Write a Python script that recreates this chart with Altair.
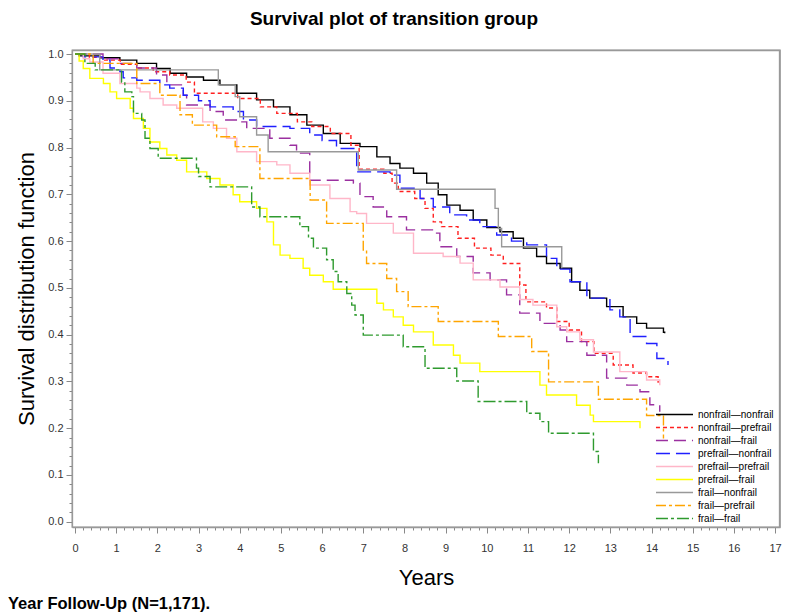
import altair as alt
import pandas as pd

groups = ["nonfrail\u2014nonfrail", "nonfrail\u2014prefrail", "nonfrail\u2014frail",
          "prefrail\u2014nonfrail", "prefrail\u2014prefrail", "prefrail\u2014frail",
          "frail\u2014nonfrail", "frail\u2014prefrail", "frail\u2014frail"]
colors = ["#000000", "#ff2020", "#9b30a0", "#1f1fff", "#ffb6c8", "#ffff00", "#999999", "#ffa500", "#2e9a2e"]
dashes = [[1, 0], [4, 3], [12, 6], [14, 6], [1, 0], [1, 0], [1, 0], [10, 3, 3, 3], [12, 3, 3, 3]]

# step-after survival curves (time in years, survival probability)
t_nn = [0, 0.1, 0.6, 1.09, 1.5, 1.98, 2.31, 2.71, 3.12, 3.52, 3.93, 4.41, 4.82, 5.22, 5.63, 6.03, 6.44, 6.92,
        7.33, 7.65, 7.89, 8.22, 8.54, 8.82, 9.03, 9.35, 9.67, 10.0, 10.32, 10.64, 10.89, 11.21, 11.45, 11.78,
        12.06, 12.26, 12.5, 12.91, 13.31, 13.64, 13.88, 14.29, 14.32]
s_nn = [1.0, 0.996, 0.992, 0.987, 0.98, 0.969, 0.959, 0.951, 0.944, 0.934, 0.916, 0.902, 0.887, 0.87, 0.848,
        0.83, 0.809, 0.802, 0.78, 0.766, 0.756, 0.745, 0.724, 0.699, 0.677, 0.666, 0.645, 0.629, 0.62, 0.606,
        0.585, 0.567, 0.552, 0.542, 0.513, 0.495, 0.478, 0.46, 0.438, 0.424, 0.414, 0.405, 0.403]

t_np = [0, 0.35, 0.7, 1.1, 1.5, 1.9, 2.3, 2.7, 2.9, 3.95, 4.5, 4.9, 5.4, 5.75, 6.2, 6.7, 6.9, 7.5, 7.7, 7.85,
        8.25, 8.5, 8.7, 8.9, 9.3, 9.7, 10.1, 10.4, 10.8, 10.95, 11.45, 11.7, 12.0, 12.3, 12.6, 13.07, 13.55,
        13.88, 14.16]
s_np = [1.0, 0.993, 0.987, 0.978, 0.97, 0.962, 0.955, 0.94, 0.916, 0.905, 0.887, 0.873, 0.855, 0.845, 0.83,
        0.805, 0.754, 0.745, 0.724, 0.706, 0.691, 0.67, 0.641, 0.631, 0.606, 0.585, 0.570, 0.552, 0.506, 0.47,
        0.457, 0.428, 0.41, 0.385, 0.36, 0.335, 0.318, 0.31, 0.297]

t_nf = [0, 0.68, 1.1, 1.5, 1.98, 2.23, 2.63, 2.71, 3.28, 3.6, 4.0, 4.17, 4.73, 5.22, 5.38, 5.7, 6.76, 6.92,
        7.24, 7.57, 8.05, 8.7, 8.86, 9.27, 9.67, 10.08, 10.48, 10.8, 11.29, 11.78, 11.94, 12.43, 12.91, 13.4,
        13.72, 13.96, 14.2]
s_nf = [1.0, 0.99, 0.98, 0.97, 0.955, 0.934, 0.912, 0.891, 0.877, 0.859, 0.855, 0.841, 0.82, 0.805, 0.788,
        0.73, 0.724, 0.695, 0.673, 0.652, 0.624, 0.617, 0.588, 0.567, 0.532, 0.517, 0.485, 0.446, 0.424, 0.41,
        0.385, 0.356, 0.307, 0.292, 0.278, 0.25, 0.235]

t_pn = [0, 0.2, 0.68, 0.85, 1.09, 1.17, 1.5, 2.06, 2.3, 2.63, 3.0, 3.28, 3.84, 4.09, 4.41, 5.22, 5.7, 6.0,
        6.35, 6.84, 7.65, 7.89, 8.38, 8.7, 9.1, 9.51, 9.83, 10.24, 10.6, 10.97, 11.45, 11.7, 12.02, 12.43,
        12.99, 13.23, 13.48, 13.88, 14.13, 14.4]
s_pn = [1.0, 0.994, 0.987, 0.97, 0.962, 0.949, 0.944, 0.934, 0.927, 0.912, 0.9, 0.887, 0.877, 0.859, 0.845,
        0.841, 0.827, 0.815, 0.798, 0.748, 0.741, 0.713, 0.691, 0.673, 0.656, 0.645, 0.631, 0.613, 0.6, 0.592,
        0.563, 0.54, 0.513, 0.478, 0.453, 0.438, 0.396, 0.381, 0.349, 0.335]

t_pp = [0, 0.2, 0.36, 0.68, 1.09, 1.5, 1.58, 1.82, 2.14, 2.47, 3.1, 3.36, 3.68, 3.93, 4.41, 4.9, 5.22, 5.7,
        6.19, 6.68, 6.84, 7.08, 7.73, 8.22, 8.94, 9.35, 9.67, 10.32, 10.8, 11.12, 11.7, 11.94, 12.26, 12.59,
        13.23, 13.88, 14.2]
s_pp = [1.0, 0.99, 0.983, 0.959, 0.937, 0.927, 0.919, 0.905, 0.891, 0.884, 0.855, 0.841, 0.82, 0.791, 0.77,
        0.763, 0.745, 0.72, 0.691, 0.663, 0.659, 0.638, 0.617, 0.574, 0.567, 0.553, 0.517, 0.502, 0.475, 0.463,
        0.417, 0.406, 0.389, 0.363, 0.321, 0.303, 0.292]

t_pf = [0, 0.1, 0.2, 0.36, 0.69, 0.85, 1.01, 1.34, 1.42, 1.66, 1.82, 2.06, 2.23, 2.47, 2.71, 3.2, 3.52, 3.84,
        4.0, 4.41, 4.66, 4.82, 4.98, 5.22, 5.54, 5.7, 6.03, 6.27, 7.33, 7.49, 7.73, 7.97, 8.22, 8.7, 9.19, 9.35,
        9.83, 11.29, 11.45, 12.18, 12.51, 12.59, 13.72]
s_pf = [1.0, 0.985, 0.969, 0.948, 0.937, 0.919, 0.905, 0.884, 0.862, 0.841, 0.812, 0.798, 0.784, 0.773,
        0.748, 0.734, 0.72, 0.699, 0.684, 0.67, 0.641, 0.592, 0.570, 0.563, 0.542, 0.527, 0.513, 0.497, 0.467,
        0.453, 0.438, 0.42, 0.406, 0.378, 0.356, 0.339, 0.321, 0.292, 0.271, 0.249, 0.228, 0.214, 0.2]

t_fn = [0, 0.6, 3.48, 3.89, 4.0, 4.41, 4.69, 6.88, 7.81, 10.2, 10.28, 10.36, 11.82]
s_fn = [1.0, 0.966, 0.934, 0.909, 0.866, 0.827, 0.791, 0.752, 0.711, 0.670, 0.627, 0.588, 0.542]

t_fp = [0, 0.44, 1.5, 2.06, 2.55, 2.85, 3.44, 3.89, 4.49, 5.71, 6.11, 7.0, 7.08, 7.57, 7.81, 8.09, 8.82,
        10.28, 11.09, 11.5, 12.71, 13.88, 14.29]
s_fp = [1.0, 0.98, 0.937, 0.912, 0.870, 0.848, 0.823, 0.802, 0.734, 0.688, 0.638, 0.581, 0.552, 0.52, 0.492,
        0.46, 0.428, 0.396, 0.364, 0.299, 0.262, 0.227, 0.178]

t_ff = [0, 0.24, 0.49, 1.13, 1.21, 1.38, 1.42, 1.62, 1.7, 1.82, 2.02, 2.95, 3.0, 3.28, 4.29, 4.49, 5.46, 5.67,
        5.79, 6.11, 6.27, 6.39, 6.6, 6.72, 6.8, 7.0, 7.97, 8.5, 9.27, 9.79, 10.97, 11.29, 11.5, 12.59, 12.71]
s_ff = [1.0, 0.98, 0.966, 0.94, 0.919, 0.909, 0.873, 0.859, 0.82, 0.798, 0.777, 0.756, 0.738, 0.716, 0.673,
        0.652, 0.631, 0.606, 0.585, 0.56, 0.535, 0.513, 0.488, 0.463, 0.442, 0.399, 0.374, 0.328, 0.301, 0.257,
        0.232, 0.214, 0.189, 0.15, 0.125]

x_ticks = [round(i * 0.2, 1) for i in range(0, 86)]
y_ticks = [round(i * 0.02, 2) for i in range(0, 51)]

title_text = "Survival plot of transition group"
caption_text = "Year Follow-Up (N=1,171)."

series = [(t_nn, s_nn), (t_np, s_np), (t_nf, s_nf), (t_pn, s_pn), (t_pp, s_pp),
          (t_pf, s_pf), (t_fn, s_fn), (t_fp, s_fp), (t_ff, s_ff)]
rows = []
for g, (ts, ss) in zip(groups, series):
    assert len(ts) == len(ss), g
    for t, s in zip(ts, ss):
        rows.append({"group": g, "t": t, "s": s})
df = pd.DataFrame(rows)

FONT = "Liberation Sans"
FRAME = "#999999"
FRAME_W = 1.3
W, H = 708, 477
x_scale = alt.Scale(domain=[-0.073, 17.12], nice=False, zero=False)
y_scale = alt.Scale(domain=[-0.0113, 1.0086], nice=False, zero=False)

legend = alt.Legend(orient="none", legendX=595, legendY=357, title=None,
                    symbolType="M-2.93,0L2.93,0", symbolSize=160, symbolStrokeWidth=1.4,
                    labelFont=FONT, labelFontSize=10, labelColor="#000000",
                    padding=0, rowPadding=0, labelOffset=16)

major_x = "abs(datum.value - round(datum.value)) < 0.001"
major_y = "abs(datum.value*10 - round(datum.value*10)) < 0.001"

lines = alt.Chart(df).mark_line(interpolate="step-after", strokeWidth=1.4, clip=True).encode(
    x=alt.X("t:Q", title="Years", scale=x_scale,
            axis=alt.Axis(values=x_ticks, grid=False,
                          labelExpr=major_x + " ? format(datum.value, 'd') : ''",
                          tickSize={"condition": {"test": major_x, "value": 6}, "value": 3},
                          tickColor="#888888", domainColor=FRAME, domainWidth=FRAME_W, labelColor="#333333",
                          labelFont=FONT, labelFontSize=11, labelPadding=9,
                          titleFont=FONT, titleFontSize=22, titleFontWeight="normal", titleColor="#000000",
                          titlePadding=14)),
    y=alt.Y("s:Q", title="Survival distribution function", scale=y_scale,
            axis=alt.Axis(values=y_ticks, grid=False,
                          labelExpr=major_y + " ? format(datum.value, '.1f') : ''",
                          tickSize={"condition": {"test": major_y, "value": 6}, "value": 3},
                          tickColor="#888888", domainColor=FRAME, domainWidth=FRAME_W, labelColor="#333333",
                          labelFont=FONT, labelFontSize=11, labelPadding=3,
                          titleFont=FONT, titleFontSize=22, titleFontWeight="normal", titleColor="#000000",
                          titlePadding=9)),
    color=alt.Color("group:N", scale=alt.Scale(domain=groups, range=colors), legend=legend),
    strokeDash=alt.StrokeDash("group:N", scale=alt.Scale(domain=groups, range=dashes), legend=legend),
    order=alt.Order("t:Q"),
)

# plot frame: top and right edges of the plot area
frame_top = alt.Chart(pd.DataFrame({"edge": ["top"]})).mark_rule(color=FRAME, strokeWidth=FRAME_W).encode(
    x=alt.value(0), x2=alt.value(W), y=alt.value(0.5))
frame_right = alt.Chart(pd.DataFrame({"edge": ["right"]})).mark_rule(color=FRAME, strokeWidth=FRAME_W).encode(
    x=alt.value(W - 0.5), y=alt.value(0), y2=alt.value(H))

caption = alt.Chart(pd.DataFrame({"caption": [caption_text]})).mark_text(
    align="left", baseline="alphabetic", font=FONT, fontSize=16.5, fontWeight="bold", color="#000000"
).encode(text="caption:N", x=alt.value(-64), y=alt.value(559))

chart = alt.layer(lines, frame_top, frame_right, caption).properties(
    width=W, height=H,
    background="white",
    title=alt.TitleParams(title_text, font=FONT, fontSize=19, fontWeight="bold", color="#000000",
                          anchor="middle", dx=-32, dy=2, offset=21),
    autosize=alt.AutoSizeParams(type="none"),
    padding={"left": 64, "top": 42, "right": 12, "bottom": 88},
).configure_view(stroke=FRAME, strokeWidth=FRAME_W)

chart.save("out.html", embed_options={"renderer": "svg", "actions": False})
